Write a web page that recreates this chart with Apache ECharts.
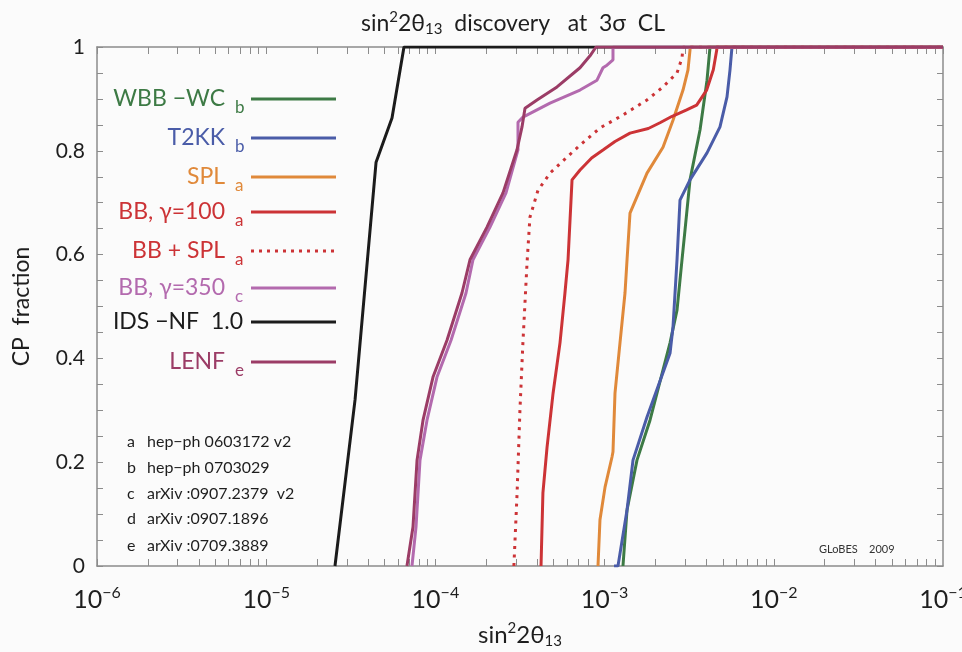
<!DOCTYPE html>
<html style="height: 100%">
<head>
    <meta charset="utf-8">
    <title>sin2 2theta13 discovery</title>
    <script type="text/javascript" src="https://cdn.jsdelivr.net/npm/echarts@6/dist/echarts.min.js"></script>
</head>
<body style="width: 100%;margin: 0;height: 100%;background: #fbfbfb">
<div id="container" style="width: 962px;height: 652px"></div>

<script type="application/javascript">

    // sin^2 2theta13 values (x) and CP fraction (y)
    var wbbX = [1.284e-3, 1.357e-3, 1.554e-3, 1.855e-3, 2.436e-3, 2.679e-3, 2.867e-3, 2.987e-3, 3.197e-3, 3.663e-3, 4.03e-3, 4.197e-3, 0.1];
    var wbbY = [0, 0.108, 0.204, 0.281, 0.430, 0.493, 0.590, 0.647, 0.744, 0.840, 0.936, 1, 1];

    var t2kkX = [1.137e-3, 1.2e-3, 1.357e-3, 1.472e-3, 1.781e-3, 2.436e-3, 2.537e-3, 2.679e-3, 2.79e-3, 3.197e-3, 4.03e-3, 4.808e-3, 5.29e-3, 5.51e-3, 5.66e-3, 0.1];
    var t2kkY = [0, 0, 0.108, 0.204, 0.287, 0.410, 0.461, 0.590, 0.705, 0.744, 0.796, 0.846, 0.904, 0.956, 1, 1];

    var splX = [9.14e-4, 9.39e-4, 1.006e-3, 1.106e-3, 1.121e-3, 1.152e-3, 1.233e-3, 1.32e-3, 1.357e-3, 1.413e-3, 1.781e-3, 2.214e-3, 2.537e-3, 2.907e-3, 3.111e-3, 3.197e-3, 3.197e-3, 0.1];
    var splY = [0, 0.089, 0.152, 0.210, 0.220, 0.333, 0.430, 0.526, 0.590, 0.680, 0.757, 0.807, 0.859, 0.917, 0.956, 0.994, 1, 1];

    var bb100X = [4.21e-4, 4.32e-4, 4.57e-4, 4.96e-4, 5.45e-4, 5.83e-4, 6.08e-4, 6.42e-4, 7.16e-4, 8.38e-4, 9.83e-4, 1.152e-3, 1.413e-3, 1.813e-3, 2.125e-3, 2.49e-3, 3.055e-3, 3.5e-3, 4.01e-3, 4.39e-3, 4.6e-3, 4.6e-3, 0.1];
    var bb100Y = [0, 0.141, 0.229, 0.333, 0.430, 0.526, 0.590, 0.744, 0.763, 0.786, 0.802, 0.818, 0.834, 0.843, 0.854, 0.866, 0.879, 0.888, 0.917, 0.956, 0.994, 1, 1];

    var bbsplX = [2.91e-4, 3.04e-4, 3.16e-4, 3.29e-4, 3.48e-4, 3.62e-4, 4.04e-4, 4.76e-4, 6.0e-4, 7.16e-4, 9.39e-4, 1.284e-3, 1.781e-3, 2.214e-3, 2.679e-3, 2.867e-3, 2.907e-3, 0.1];
    var bbsplY = [0, 0.141, 0.301, 0.430, 0.584, 0.672, 0.724, 0.757, 0.788, 0.811, 0.844, 0.869, 0.898, 0.923, 0.950, 0.979, 1, 1];

    var bb350X = [7.27e-5, 7.68e-5, 8.11e-5, 8.92e-5, 1.022e-4, 1.237e-4, 1.517e-4, 1.668e-4, 2.102e-4, 2.614e-4, 3.077e-4, 3.077e-4, 3.293e-4, 4.757e-4, 7.155e-4, 9.02e-4, 9.78e-4, 1.033e-3, 1.121e-3, 1.121e-3, 0.1];
    var bb350Y = [0, 0.075, 0.204, 0.281, 0.364, 0.435, 0.526, 0.590, 0.653, 0.719, 0.802, 0.855, 0.865, 0.892, 0.917, 0.936, 0.960, 0.965, 0.975, 1, 1];

    var idsX = [2.55e-5, 3.35e-5, 4.46e-5, 5.54e-5, 6.52e-5, 0.1];
    var idsY = [0, 0.32, 0.778, 0.863, 1, 1];

    var lenfX = [6.79e-5, 7.37e-5, 7.79e-5, 8.45e-5, 9.68e-5, 1.171e-4, 1.436e-4, 1.601e-4, 2.018e-4, 2.509e-4, 3.036e-4, 3.25e-4, 3.385e-4, 3.986e-4, 5.233e-4, 7.155e-4, 8.2e-4, 8.9e-4, 0.1];
    var lenfY = [0, 0.075, 0.204, 0.281, 0.364, 0.435, 0.526, 0.590, 0.653, 0.719, 0.802, 0.846, 0.882, 0.898, 0.923, 0.960, 0.983, 1, 1];

    // legend rows: label, subscript, colour
    var names = ['WBB \u2212WC', 'T2KK', 'SPL', 'BB, \u03b3=100', 'BB + SPL', 'BB, \u03b3=350', 'IDS \u2212NF  1.0', 'LENF'];
    var subs = ['b', 'b', 'a', 'a', 'a', 'c', '', 'e'];
    var colors = ['#3d7a45', '#4a5ca8', '#e0893a', '#cc3336', '#cc3336', '#b36aae', '#1b1b1b', '#9b3c66'];

    var refs = ['a', 'b', 'c', 'd', 'e'];
    var refTexts = ['hep\u2212ph 0603172 v2', 'hep\u2212ph 0703029', 'arXiv :0907.2379  v2', 'arXiv :0907.1896', 'arXiv :0709.3889'];

    // tick positions on the log axis: decades and 2..9 in between
    var xTicks = [];
    for (var p = -6; p <= -1; p++) {
        for (var k = 1; k <= 9; k++) {
            if (p === -1 && k > 1) break;
            xTicks.push(k * Math.pow(10, p));
        }
    }

    function pairs(xs, ys) {
        var out = [];
        for (var i = 0; i < xs.length; i++) {
            out.push([xs[i], ys[i]]);
        }
        return out;
    }

    var font = 'Lato';
    var frame = '#8c8c8c';
    var ink = '#1e1e1e';

    var dom = document.getElementById("container");
    var myChart = echarts.init(dom);

    // legend drawn as plain graphics, text right aligned next to a line sample
    var legendY = [99, 138, 177, 212, 251, 288, 322, 362];
    var graphics = [];
    for (var i = 0; i < names.length; i++) {
        graphics.push({
            type: 'text',
            style: {
                text: names[i], x: subs[i] ? 225 : 243, y: legendY[i],
                fill: colors[i], font: '23px ' + font,
                textAlign: 'right', textVerticalAlign: 'middle'
            }
        });
        if (subs[i]) {
            graphics.push({
                type: 'text',
                style: {
                    text: subs[i], x: 235, y: legendY[i] + 9,
                    fill: colors[i], font: '17px ' + font,
                    textAlign: 'left', textVerticalAlign: 'middle'
                }
            });
        }
        graphics.push({
            type: 'line',
            shape: {x1: 251, y1: legendY[i], x2: 336, y2: legendY[i]},
            style: {
                stroke: colors[i], lineWidth: 3.2,
                lineDash: i === 4 ? [3, 5] : null
            }
        });
    }
    var refY = [442, 468, 494, 519, 546];
    for (var j = 0; j < refs.length; j++) {
        graphics.push({
            type: 'text',
            style: {text: refs[j], x: 127, y: refY[j], fill: ink, font: '16px ' + font, textVerticalAlign: 'middle'}
        });
        graphics.push({
            type: 'text',
            style: {text: refTexts[j], x: 147, y: refY[j], fill: ink, font: '16px ' + font, textVerticalAlign: 'middle'}
        });
    }
    graphics.push({
        type: 'text',
        style: {text: 'GLoBES    2009', x: 819, y: 549, fill: '#333', font: '11px ' + font, textVerticalAlign: 'middle'}
    });

    var xBottom = {
        type: 'log',
        logBase: 10,
        min: 1e-6,
        max: 0.1,
        position: 'bottom',
        axisLine: {show: true, onZero: false, lineStyle: {color: frame, width: 1.5}},
        axisTick: {inside: true, length: 7, customValues: xTicks, lineStyle: {color: frame}},
        axisLabel: {
            margin: 19,
            formatter: function (v) {
                var e = Math.round(Math.log10(v));
                return '{b|10}{s|\u2212' + (-e) + '}';
            },
            rich: {
                b: {fontFamily: font, fontSize: 25, color: ink, lineHeight: 30},
                s: {fontFamily: font, fontSize: 16, color: ink, verticalAlign: 'top', lineHeight: 18}
            }
        },
        splitLine: {show: false},
        name: '{a|sin}{sup|2}{a|2\u03b8}{sub|13}',
        nameLocation: 'middle',
        nameGap: 55,
        nameTextStyle: {
            rich: {
                a: {fontFamily: font, fontSize: 24, color: ink, lineHeight: 28},
                sup: {fontFamily: font, fontSize: 15, color: ink, verticalAlign: 'top', lineHeight: 16},
                sub: {fontFamily: font, fontSize: 15, color: ink, verticalAlign: 'bottom', lineHeight: 16}
            }
        }
    };

    var xTop = {
        type: 'log',
        logBase: 10,
        min: 1e-6,
        max: 0.1,
        position: 'top',
        axisLine: {show: true, onZero: false, lineStyle: {color: frame, width: 1.5}},
        axisTick: {inside: true, length: 7, customValues: xTicks, lineStyle: {color: frame}},
        axisLabel: {show: false},
        splitLine: {show: false}
    };

    function yAxis(pos, main) {
        return {
            type: 'value',
            min: 0,
            max: 1,
            interval: 0.2,
            position: pos,
            axisLine: {show: true, onZero: false, lineStyle: {color: frame, width: 1.5}},
            axisTick: {inside: true, length: 6, lineStyle: {color: frame}},
            minorTick: {show: true, splitNumber: 4, length: 6, lineStyle: {color: frame}},
            axisLabel: {
                show: main, margin: 12, fontFamily: font, fontSize: 21, color: ink,
                formatter: function (v) { return String(Math.round(v * 10) / 10); }
            },
            splitLine: {show: false},
            name: main ? 'CP  fraction' : '',
            nameLocation: 'middle',
            nameGap: 64,
            nameTextStyle: {fontFamily: font, fontSize: 23, color: ink}
        };
    }

    function line(name, xs, ys, color, dash) {
        return {
            name: name,
            type: 'line',
            data: pairs(xs, ys),
            showSymbol: false,
            symbol: 'none',
            clip: true,
            lineStyle: {color: color, width: 3, type: dash || 'solid', cap: 'butt'}
        };
    }

    var option = {
        animation: false,
        backgroundColor: '#fbfbfb',
        title: {
            text: '{a|sin}{sup|2}{a|2\u03b8}{sub|13}{a|  discovery   at  3\u03c3  CL}',
            left: 356,
            top: 5,
            textStyle: {
                fontWeight: 'normal',
                rich: {
                    a: {fontFamily: font, fontSize: 23, fontWeight: 'normal', color: ink, lineHeight: 27},
                    sup: {fontFamily: font, fontSize: 15, fontWeight: 'normal', color: ink, verticalAlign: 'top', lineHeight: 15},
                    sub: {fontFamily: font, fontSize: 15, fontWeight: 'normal', color: ink, verticalAlign: 'bottom', lineHeight: 15}
                }
            }
        },
        grid: {left: 97, right: 19, top: 47, bottom: 86, outerBoundsMode: 'none'},
        xAxis: [xBottom, xTop],
        yAxis: [yAxis('left', true), yAxis('right', false)],
        graphic: graphics,
        series: [
            line('IDS-NF 1.0', idsX, idsY, colors[6]),
            line('WBB-WC', wbbX, wbbY, colors[0]),
            line('T2KK', t2kkX, t2kkY, colors[1]),
            line('SPL', splX, splY, colors[2]),
            line('BB100', bb100X, bb100Y, colors[3]),
            line('BB+SPL', bbsplX, bbsplY, colors[4], [3, 5.5]),
            line('BB350', bb350X, bb350Y, colors[5]),
            line('LENF', lenfX, lenfY, colors[7])
        ]
    };

    myChart.setOption(option);
</script>

</body>
</html>
